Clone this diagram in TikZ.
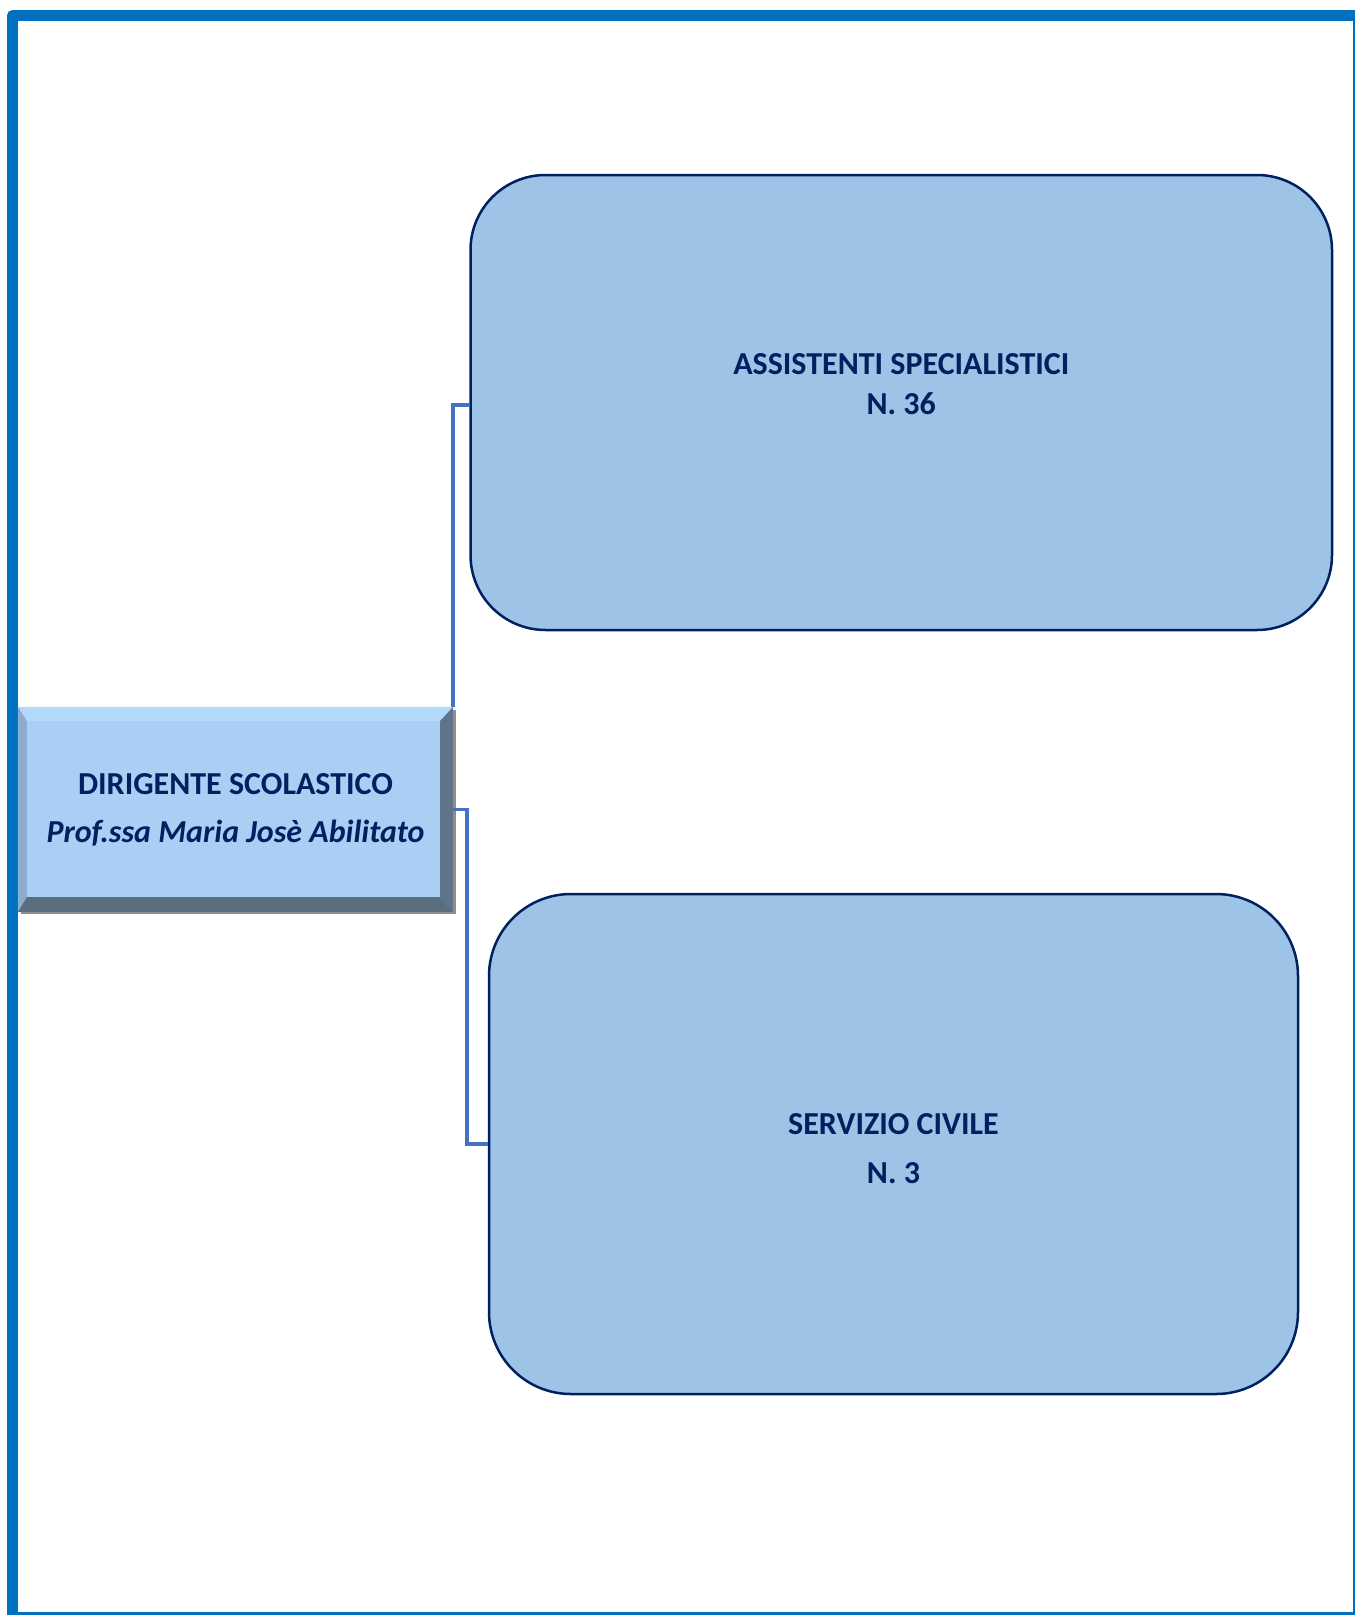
\documentclass[tikz,border=0pt]{standalone}
\usepackage{fontspec}
\setmainfont{Carlito}
\usetikzlibrary{calc}
\definecolor{frameblue}{HTML}{0070C0}
\definecolor{linkblue}{HTML}{4472C4}
\definecolor{navy}{HTML}{002060}
\definecolor{boxfill}{HTML}{9DC3E6}
\definecolor{face}{HTML}{AACFF4}
\definecolor{bevtop}{HTML}{B3D9FB}
\definecolor{bevleft}{HTML}{8CADCC}
\definecolor{bevright}{HTML}{5F7488}
\definecolor{bevbottom}{HTML}{5B6E80}
\definecolor{bevshadow}{HTML}{8E8E8E}

\begin{document}
\begin{tikzpicture}[x=1pt,y=-1pt,
  roundbox/.style={draw=navy, line width=2.5pt, fill=boxfill,
    rounded corners=#1, inner sep=0pt},
  boxtext/.style={text=navy, font=\bfseries\fontsize{32}{#1}\selectfont,
    align=center, inner sep=0pt},
  link/.style={draw=linkblue, line width=3.5pt},
]
\useasboundingbox (0,0) rectangle (1355,1615);
\clip (0,0) rectangle (1355,1615);

% page frame
\draw[frameblue, line width=11pt, line join=round] (12.5,15.5) rectangle (1358.5,1617.5);

% head of the chart: bevelled box
\node[fill=face, minimum width=435pt, minimum height=205pt, inner sep=0pt]
  (dir) at (235.5,809.5) {};
\fill[bevtop] (dir.north west) -- (dir.north east) -- ($(dir.north east)+(-13,14)$)
  -- ($(dir.north west)+(9,14)$) -- cycle;
\fill[bevleft] (dir.north west) -- ($(dir.north west)+(9,14)$)
  -- ($(dir.south west)+(9,-15)$) -- (dir.south west) -- cycle;
\fill[bevright] (dir.north east) -- (dir.south east) -- ($(dir.south east)+(-13,-15)$)
  -- ($(dir.north east)+(-13,14)$) -- cycle;
\fill[bevbottom] (dir.south west) -- (dir.south east) -- ($(dir.south east)+(-13,-15)$)
  -- ($(dir.south west)+(9,-15)$) -- cycle;
\fill[bevshadow] ($(dir.north east)+(0,3)$) rectangle ($(dir.south east)+(3,2)$);
\fill[bevshadow] ($(dir.south west)+(3,0)$) rectangle ($(dir.south east)+(3,2)$);
\node[boxtext=48] (dirtxt) at (dir.center)
  {DIRIGENTE SCOLASTICO\\\textit{Prof.ssa Maria Josè Abilitato}};

% subordinate units
\node[roundbox=75pt, minimum width=861.5pt, minimum height=455pt] (ass) at (901.25,402.5) {};
\node[boxtext=40] (asstxt) at (901.25,384.5) {ASSISTENTI SPECIALISTICI\\N. 36};

\node[roundbox=82pt, minimum width=809pt, minimum height=500pt] (civ) at (893.5,1144) {};
\node[boxtext=49] (civtxt) at (893.5,1148.5) {SERVIZIO CIVILE\\N. 3};

% connectors
\draw[link] (dir.north east) |- ([yshift=-2.5pt]ass.west);
\draw[link] (dir.east) -- ++(14,0) |- (civ.west);
\end{tikzpicture}
\end{document}
